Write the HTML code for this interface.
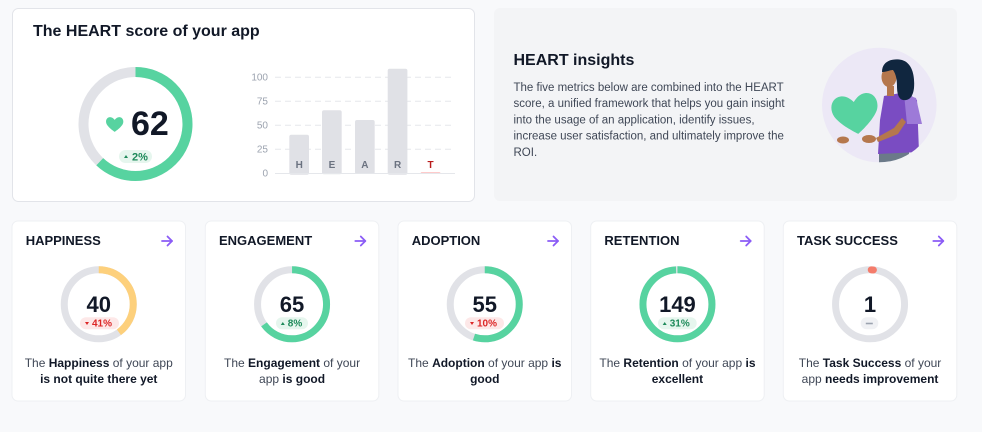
<!DOCTYPE html>
<html><head><meta charset="utf-8"><style>
html,body{margin:0;padding:0;background:#f8f9fb;}
svg{display:block;font-family:"Liberation Sans",sans-serif;}
</style></head><body>
<svg width="982" height="432" viewBox="0 0 982 432" xmlns="http://www.w3.org/2000/svg">
<defs>
<clipPath id="ill"><circle cx="879.3" cy="105" r="57.3"/></clipPath>
</defs>
<rect width="982" height="432" fill="#f8f9fb"/>

<!-- Top-left card -->
<rect x="12.5" y="8.5" width="462" height="193" rx="6" fill="#fff" stroke="#e2e4e9"/>
<text x="33" y="36" font-size="16" font-weight="bold" fill="#111827">The HEART score of your app</text>

<!-- main donut -->
<circle cx="135.5" cy="124" r="52" fill="none" stroke="#e1e2e7" stroke-width="10"/>
<circle cx="135.5" cy="124" r="52" fill="none" stroke="#57d3a0" stroke-width="10" stroke-dasharray="202.6 400" transform="rotate(-90 135.5 124)"/>
<path d="M12 21s-7-4.5-9.5-9C0.5 8 2.5 3.5 6.5 3.5c2.2 0 3.9 1.3 5.5 3.2 1.6-1.9 3.3-3.2 5.5-3.2 4 0 6 4.5 4 8.5C19 16.5 12 21 12 21z" fill="#57d3a0" transform="translate(104.6 114.2) scale(0.84)"/>
<text x="131" y="135" font-size="34" font-weight="bold" fill="#111827">62</text>
<rect x="119" y="150" width="33" height="13" rx="6.5" fill="#e6f6ee"/>
<polygon points="124,158 128,158 126,155" fill="#1e8a5a"/>
<text x="132" y="160.5" font-size="11" font-weight="bold" fill="#1e8a5a">2%</text>

<!-- bar chart -->
<g font-size="10" fill="#9ca3af" text-anchor="end">
<text x="268" y="80.5">100</text>
<text x="268" y="104.5">75</text>
<text x="268" y="128.5">50</text>
<text x="268" y="152.5">25</text>
<text x="268" y="176.5">0</text>
</g>
<g stroke="#e5e7eb" stroke-width="1" stroke-dasharray="6 4">
<line x1="275" y1="77.3" x2="455" y2="77.3"/>
<line x1="275" y1="101.3" x2="455" y2="101.3"/>
<line x1="275" y1="125.3" x2="455" y2="125.3"/>
<line x1="275" y1="149.3" x2="455" y2="149.3"/>
</g>
<g fill="#e0e1e6">
<rect x="289.3" y="134.7" width="19.7" height="40" rx="2"/>
<rect x="322" y="110.3" width="19.7" height="64" rx="2"/>
<rect x="355" y="120" width="19.7" height="54" rx="2"/>
<rect x="387.7" y="68.7" width="19.7" height="106" rx="2"/>
</g>
<rect x="420.7" y="172" width="19.7" height="2" rx="1" fill="#fecaca"/>
<line x1="275" y1="173.5" x2="455" y2="173.5" stroke="#e5e7eb" stroke-width="1"/>
<g font-size="10" font-weight="bold" fill="#6b7280" text-anchor="middle">
<text x="299.2" y="168">H</text>
<text x="331.9" y="168">E</text>
<text x="364.9" y="168">A</text>
<text x="397.6" y="168">R</text>
<text x="430.5" y="168" fill="#b91c1c">T</text>
</g>

<!-- Right insights card -->
<rect x="494" y="8" width="463" height="193" rx="6" fill="#f3f4f6"/>
<text x="513.5" y="65" font-size="16" font-weight="bold" fill="#111827">HEART insights</text>
<g font-size="11.5" fill="#3f4756">
<text x="513.5" y="91">The five metrics below are combined into the HEART</text>
<text x="513.5" y="107.2">score, a unified framework that helps you gain insight</text>
<text x="513.5" y="123.5">into the usage of an application, identify issues,</text>
<text x="513.5" y="139.7">increase user satisfaction, and ultimately improve the</text>
<text x="513.5" y="156">ROI.</text>
</g>

<!-- illustration -->
<circle cx="879.3" cy="105" r="57.3" fill="#ece8f6"/>
<g clip-path="url(#ill)">
<rect x="879" y="148" width="30" height="20" fill="#6b7a89"/>
<path d="M884 96 L906 92 L917 100 L919 152 L878 154 L880 120 Z" fill="#7a4cc2"/>
<path d="M904 94 L916 98 L922 124 L907 124 Z" fill="#9d7ad8"/>
<path d="M906 122 L898 134 L878 142 L876 138 L894 128 L902 118 Z" fill="#b5774d"/>
<rect x="887" y="86" width="7" height="10" fill="#b5774d"/>
<ellipse cx="889" cy="77" rx="7.5" ry="10" fill="#b5774d"/>
<path d="M882 72 C882 60 894 58 902 60 C912 63 915 75 914 88 C913 96 910 101 903 100 C898 99 897 92 897 86 C897 80 896 74 893 70 C890 70 886 72 882 72 Z" fill="#10263f"/>
<path d="M12 21s-7-4.5-9.5-9C0.5 8 2.5 3.5 6.5 3.5c2.2 0 3.9 1.3 5.5 3.2 1.6-1.9 3.3-3.2 5.5-3.2 4 0 6 4.5 4 8.5C19 16.5 12 21 12 21z" fill="#57d3a0" transform="translate(826.5 89) rotate(-8 12 12) scale(2.25)"/>
<ellipse cx="843" cy="140" rx="6" ry="3.5" fill="#b5774d"/>
<ellipse cx="869" cy="139" rx="7" ry="4" fill="#b5774d"/>
</g>

<!-- Bottom cards -->
<g id="c1" transform="translate(12 221)">
<rect x="0" y="0" width="173.5" height="180" rx="6" fill="#fff" stroke="#eef0f3"/>
<text x="13.7" y="24" font-size="13" font-weight="bold" fill="#111827">HAPPINESS</text>
<g stroke="#8b5cf6" stroke-width="1.8" fill="none" stroke-linecap="round" stroke-linejoin="round"><line x1="150" y1="20" x2="160" y2="20"/><polyline points="155.5,15.5 160,20 155.5,24.5"/></g>
<circle cx="86.75" cy="83.3" r="34.5" fill="none" stroke="#e1e2e7" stroke-width="7"/>
<circle cx="86.75" cy="83.3" r="34.5" fill="none" stroke="#fdd07c" stroke-width="7" stroke-dasharray="86.7 400" transform="rotate(-90 86.75 83.3)"/>
<text x="86.75" y="91" font-size="22" font-weight="bold" fill="#111827" text-anchor="middle">40</text>
<rect x="68" y="96.3" width="39" height="12" rx="6" fill="#fde8e8"/>
<polygon points="73,101 77,101 75,104" fill="#dc2626"/>
<text x="80" y="105.5" font-size="10" font-weight="bold" fill="#dc2626">41%</text>
<g font-size="12" fill="#3f4756" text-anchor="middle">
<text x="86.75" y="146">The <tspan font-weight="bold" fill="#111827">Happiness</tspan> of your app</text>
<text x="86.75" y="162" font-weight="bold" fill="#111827">is not quite there yet</text>
</g>
</g>

<g transform="translate(205.3 221)">
<rect x="0" y="0" width="173.5" height="180" rx="6" fill="#fff" stroke="#eef0f3"/>
<text x="13.7" y="24" font-size="13" font-weight="bold" fill="#111827">ENGAGEMENT</text>
<g stroke="#8b5cf6" stroke-width="1.8" fill="none" stroke-linecap="round" stroke-linejoin="round"><line x1="150" y1="20" x2="160" y2="20"/><polyline points="155.5,15.5 160,20 155.5,24.5"/></g>
<circle cx="86.75" cy="83.3" r="34.5" fill="none" stroke="#e1e2e7" stroke-width="7"/>
<circle cx="86.75" cy="83.3" r="34.5" fill="none" stroke="#57d3a0" stroke-width="7" stroke-dasharray="140.9 400" transform="rotate(-90 86.75 83.3)"/>
<text x="86.75" y="91" font-size="22" font-weight="bold" fill="#111827" text-anchor="middle">65</text>
<rect x="70.7" y="96.3" width="32" height="12" rx="6" fill="#e6f6ee"/>
<polygon points="75.5,104 79.5,104 77.5,101" fill="#1e8a5a"/>
<text x="82.5" y="105.5" font-size="10" font-weight="bold" fill="#1e8a5a">8%</text>
<g font-size="12" fill="#3f4756" text-anchor="middle">
<text x="86.75" y="146">The <tspan font-weight="bold" fill="#111827">Engagement</tspan> of your</text>
<text x="86.75" y="162">app <tspan font-weight="bold" fill="#111827">is good</tspan></text>
</g>
</g>

<g transform="translate(398 221)">
<rect x="0" y="0" width="173.5" height="180" rx="6" fill="#fff" stroke="#eef0f3"/>
<text x="13.7" y="24" font-size="13" font-weight="bold" fill="#111827">ADOPTION</text>
<g stroke="#8b5cf6" stroke-width="1.8" fill="none" stroke-linecap="round" stroke-linejoin="round"><line x1="150" y1="20" x2="160" y2="20"/><polyline points="155.5,15.5 160,20 155.5,24.5"/></g>
<circle cx="86.75" cy="83.3" r="34.5" fill="none" stroke="#e1e2e7" stroke-width="7"/>
<circle cx="86.75" cy="83.3" r="34.5" fill="none" stroke="#57d3a0" stroke-width="7" stroke-dasharray="119.2 400" transform="rotate(-90 86.75 83.3)"/>
<text x="86.75" y="91" font-size="22" font-weight="bold" fill="#111827" text-anchor="middle">55</text>
<rect x="67" y="96.3" width="39" height="12" rx="6" fill="#fde8e8"/>
<polygon points="72,101 76,101 74,104" fill="#dc2626"/>
<text x="79" y="105.5" font-size="10" font-weight="bold" fill="#dc2626">10%</text>
<g font-size="12" fill="#3f4756" text-anchor="middle">
<text x="86.75" y="146">The <tspan font-weight="bold" fill="#111827">Adoption</tspan> of your app <tspan font-weight="bold" fill="#111827">is</tspan></text>
<text x="86.75" y="162" font-weight="bold" fill="#111827">good</text>
</g>
</g>

<g transform="translate(590.7 221)">
<rect x="0" y="0" width="173.5" height="180" rx="6" fill="#fff" stroke="#eef0f3"/>
<text x="13.7" y="24" font-size="13" font-weight="bold" fill="#111827">RETENTION</text>
<g stroke="#8b5cf6" stroke-width="1.8" fill="none" stroke-linecap="round" stroke-linejoin="round"><line x1="150" y1="20" x2="160" y2="20"/><polyline points="155.5,15.5 160,20 155.5,24.5"/></g>
<circle cx="86.75" cy="83.3" r="34.5" fill="none" stroke="#e1e2e7" stroke-width="7"/>
<circle cx="86.75" cy="83.3" r="34.5" fill="none" stroke="#57d3a0" stroke-width="7" stroke-dasharray="215 400" transform="rotate(-90 86.75 83.3)"/>
<text x="86.75" y="91" font-size="22" font-weight="bold" fill="#111827" text-anchor="middle">149</text>
<rect x="67.3" y="96.3" width="38.7" height="12" rx="6" fill="#e6f6ee"/>
<polygon points="72,104 76,104 74,101" fill="#1e8a5a"/>
<text x="79" y="105.5" font-size="10" font-weight="bold" fill="#1e8a5a">31%</text>
<g font-size="12" fill="#3f4756" text-anchor="middle">
<text x="86.75" y="146">The <tspan font-weight="bold" fill="#111827">Retention</tspan> of your app <tspan font-weight="bold" fill="#111827">is</tspan></text>
<text x="86.75" y="162" font-weight="bold" fill="#111827">excellent</text>
</g>
</g>

<g transform="translate(783.3 221)">
<rect x="0" y="0" width="173.5" height="180" rx="6" fill="#fff" stroke="#eef0f3"/>
<text x="13.7" y="24" font-size="13" font-weight="bold" fill="#111827">TASK SUCCESS</text>
<g stroke="#8b5cf6" stroke-width="1.8" fill="none" stroke-linecap="round" stroke-linejoin="round"><line x1="150" y1="20" x2="160" y2="20"/><polyline points="155.5,15.5 160,20 155.5,24.5"/></g>
<circle cx="86.75" cy="83.3" r="34.5" fill="none" stroke="#e1e2e7" stroke-width="7"/>
<circle cx="86.75" cy="83.3" r="34.5" fill="none" stroke="#f47c6b" stroke-width="7" stroke-linecap="round" stroke-dasharray="2.2 400" transform="rotate(-88 86.75 83.3)"/>
<text x="86.75" y="91" font-size="22" font-weight="bold" fill="#111827" text-anchor="middle">1</text>
<rect x="77.4" y="96.3" width="17.6" height="12" rx="6" fill="#f0f1f4"/>
<line x1="82.5" y1="102.5" x2="89.5" y2="102.5" stroke="#9ca3af" stroke-width="1.6"/>
<g font-size="12" fill="#3f4756" text-anchor="middle">
<text x="86.75" y="146">The <tspan font-weight="bold" fill="#111827">Task Success</tspan> of your</text>
<text x="86.75" y="162">app <tspan font-weight="bold" fill="#111827">needs improvement</tspan></text>
</g>
</g>
</svg>
</body></html>
